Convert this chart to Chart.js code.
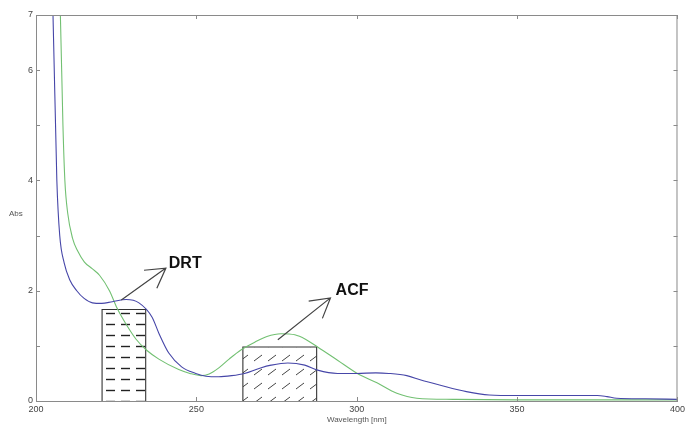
<!DOCTYPE html>
<html>
<head>
<meta charset="utf-8">
<script src="https://cdn.jsdelivr.net/npm/chart.js@4.4.1/dist/chart.umd.min.js"></script>
<style>
html, body { margin: 0; padding: 0; background: #fff; }
#wrap { width: 688px; height: 425px; }
</style>
</head>
<body>
<div id="wrap"><canvas id="specChart" width="688" height="425"></canvas></div>
<script>
// blue spectrum (DRT)
const blueWl  = [204.3, 205.3, 206.5, 207.4, 208.8, 210.5, 212.7, 215, 217.6, 220.5, 223.8, 228.1, 232.1, 236.2, 238.3, 241.4, 245.4, 249.8, 253, 257, 261, 265, 270, 273.3, 278.5, 283.8, 287.8, 294, 300, 306, 310, 315.6, 320, 325.8, 334.2, 341.3, 350, 362, 375, 378, 381, 390, 400];
const blueAbs = [8.5, 7.0, 4.0, 3.0, 2.5, 2.2, 2.0, 1.86, 1.78, 1.77, 1.8, 1.84, 1.78, 1.52, 1.23, 0.87, 0.62, 0.5, 0.45, 0.44, 0.46, 0.5, 0.6, 0.65, 0.69, 0.65, 0.56, 0.5, 0.5, 0.51, 0.5, 0.46, 0.38, 0.29, 0.17, 0.11, 0.1, 0.1, 0.1, 0.08, 0.05, 0.04, 0.03];

// green spectrum (ACF)
const greenWl  = [206.6, 207.6, 208.4, 209, 209.9, 211.4, 213, 215.1, 217.5, 219.8, 222.9, 225.3, 228, 231.2, 234.5, 238.3, 244.5, 248, 251.5, 254, 257, 260.2, 264, 268.3, 272, 276.4, 280.7, 284, 287.8, 294, 300.2, 306.3, 312.5, 318.7, 330, 350, 400];
const greenAbs = [8.5, 7.0, 5.0, 4.0, 3.4, 2.95, 2.72, 2.52, 2.4, 2.28, 2.0, 1.68, 1.4, 1.12, 0.92, 0.76, 0.57, 0.5, 0.46, 0.49, 0.6, 0.76, 0.93, 1.07, 1.17, 1.22, 1.2, 1.12, 0.98, 0.74, 0.5, 0.33, 0.14, 0.05, 0.03, 0.02, 0.02];

// integration bands: [from, to, height]
const drtBand = [220.6, 234.2, 1.66];
const acfBand = [264.5, 287.5, 0.98];

// arrows [x0, y0, x1, y1] and labels [x, y]
const drtArrow = [226.6, 1.83, 240.5, 2.41];
const acfArrow = [275.4, 1.11, 291.8, 1.87];
const drtLabel = [241.4, 2.42];
const acfLabel = [293.4, 1.93];

const xTicks = [200, 250, 300, 350, 400];

function toPoints(xs, ys) {
    return xs.map(function (x, i) { return { x: x, y: ys[i] }; });
}

function bandPoints(b) {
    return [{ x: b[0], y: 0 }, { x: b[0], y: b[2] }, { x: b[1], y: b[2] }, { x: b[1], y: 0 }];
}

function hatchDashes() {
    let c = document.createElement("canvas");
    c.width = 15; c.height = 11;
    let g = c.getContext("2d");
    g.strokeStyle = "#222";
    g.lineWidth = 1.4;
    g.beginPath();
    g.moveTo(1, 5.5); g.lineTo(10, 5.5);
    g.stroke();
    return g.createPattern(c, "repeat");
}

function hatchDiagonal() {
    let c = document.createElement("canvas");
    c.width = 14; c.height = 14;
    let g = c.getContext("2d");
    g.strokeStyle = "#444";
    g.lineWidth = 1;
    g.beginPath();
    g.moveTo(2, 11); g.lineTo(10, 5);
    g.stroke();
    return g.createPattern(c, "repeat");
}

function drawArrow(ctx, x0, y0, x1, y1) {
    let a = Math.atan2(y0 - y1, x0 - x1);
    let len = 22, spread = Math.PI / 6;
    ctx.beginPath();
    ctx.moveTo(x0, y0); ctx.lineTo(x1, y1);
    ctx.moveTo(x1 + len * Math.cos(a - spread), y1 + len * Math.sin(a - spread));
    ctx.lineTo(x1, y1);
    ctx.lineTo(x1 + len * Math.cos(a + spread), y1 + len * Math.sin(a + spread));
    ctx.stroke();
}

const decorPlugin = {
    id: "decor",
    afterDatasetsDraw: function (chart) {
        let ctx = chart.ctx, area = chart.chartArea;
        let xs = chart.scales.x, ys = chart.scales.y;
        ctx.save();

        // frame
        ctx.strokeStyle = "#8a8a8a";
        ctx.lineWidth = 1;
        ctx.strokeRect(area.left + 0.5, area.top + 0.5, area.right - area.left - 1, area.bottom - area.top);

        // inward ticks
        ctx.beginPath();
        xTicks.forEach(function (v) {
            let px = Math.round(xs.getPixelForValue(v)) + 0.5;
            ctx.moveTo(px, area.bottom); ctx.lineTo(px, area.bottom - 4);
            ctx.moveTo(px, area.top); ctx.lineTo(px, area.top + 4);
        });
        ys.ticks.forEach(function (t) {
            let py = Math.round(ys.getPixelForValue(t.value)) + 0.5;
            ctx.moveTo(area.left, py); ctx.lineTo(area.left + 4, py);
            ctx.moveTo(area.right, py); ctx.lineTo(area.right - 4, py);
        });
        ctx.stroke();

        // arrows
        ctx.strokeStyle = "#444";
        ctx.lineWidth = 1.2;
        [drtArrow, acfArrow].forEach(function (a) {
            drawArrow(ctx, xs.getPixelForValue(a[0]), ys.getPixelForValue(a[1]),
                xs.getPixelForValue(a[2]), ys.getPixelForValue(a[3]));
        });

        // labels
        ctx.fillStyle = "#111";
        ctx.font = "bold 16px 'Liberation Sans', Arial, sans-serif";
        ctx.textBaseline = "alphabetic";
        ctx.textAlign = "left";
        ctx.fillText("DRT", xs.getPixelForValue(drtLabel[0]), ys.getPixelForValue(drtLabel[1]));
        ctx.fillText("ACF", xs.getPixelForValue(acfLabel[0]), ys.getPixelForValue(acfLabel[1]));

        // axis titles
        ctx.fillStyle = "#555";
        ctx.font = "8px 'Liberation Sans', Arial, sans-serif";
        ctx.textBaseline = "middle";
        ctx.textAlign = "left";
        ctx.fillText("Abs", 9, 214);
        ctx.textAlign = "center";
        ctx.fillText("Wavelength [nm]", (area.left + area.right) / 2, 420);
        ctx.restore();
    }
};

let ctx = document.getElementById("specChart").getContext("2d");
new Chart(ctx, {
    type: "line",
    data: {
        datasets: [
            {
                data: toPoints(blueWl, blueAbs),
                borderColor: "#4646a8",
                borderWidth: 1.1,
                pointRadius: 0,
                cubicInterpolationMode: "monotone",
                fill: false
            },
            {
                data: toPoints(greenWl, greenAbs),
                borderColor: "#72c072",
                borderWidth: 1.1,
                pointRadius: 0,
                cubicInterpolationMode: "monotone",
                fill: false
            },
            {
                data: bandPoints(drtBand),
                borderColor: "#333",
                borderWidth: 1.1,
                pointRadius: 0,
                tension: 0,
                fill: "origin",
                backgroundColor: hatchDashes()
            },
            {
                data: bandPoints(acfBand),
                borderColor: "#333",
                borderWidth: 1.1,
                pointRadius: 0,
                tension: 0,
                fill: "origin",
                backgroundColor: hatchDiagonal()
            }
        ]
    },
    options: {
        responsive: false,
        animation: false,
        devicePixelRatio: 1,
        layout: { padding: { left: 0, top: 15, right: 5, bottom: 0 } },
        plugins: {
            legend: { display: false },
            tooltip: { enabled: false }
        },
        scales: {
            x: {
                type: "linear",
                min: 200,
                max: 400,
                afterBuildTicks: function (scale) {
                    scale.ticks = xTicks.map(function (v) { return { value: v }; });
                },
                afterFit: function (scale) { scale.height = 24; },
                grid: { display: false, drawTicks: false },
                border: { display: true, color: "#8a8a8a" },
                ticks: {
                    padding: 3,
                    maxRotation: 0,
                    color: "#444",
                    font: { size: 9, family: "'Liberation Sans', Arial, sans-serif" }
                }
            },
            y: {
                min: 0,
                max: 7,
                afterFit: function (scale) { scale.width = 36; },
                grid: { display: false, drawTicks: false },
                border: { display: true, color: "#8a8a8a" },
                ticks: {
                    stepSize: 1,
                    padding: 3,
                    color: "#444",
                    font: { size: 9, family: "'Liberation Sans', Arial, sans-serif" },
                    callback: function (v) { return (v % 2 === 0 || v === 7) ? v : ""; }
                }
            }
        }
    },
    plugins: [decorPlugin]
});
</script>
</body>
</html>
